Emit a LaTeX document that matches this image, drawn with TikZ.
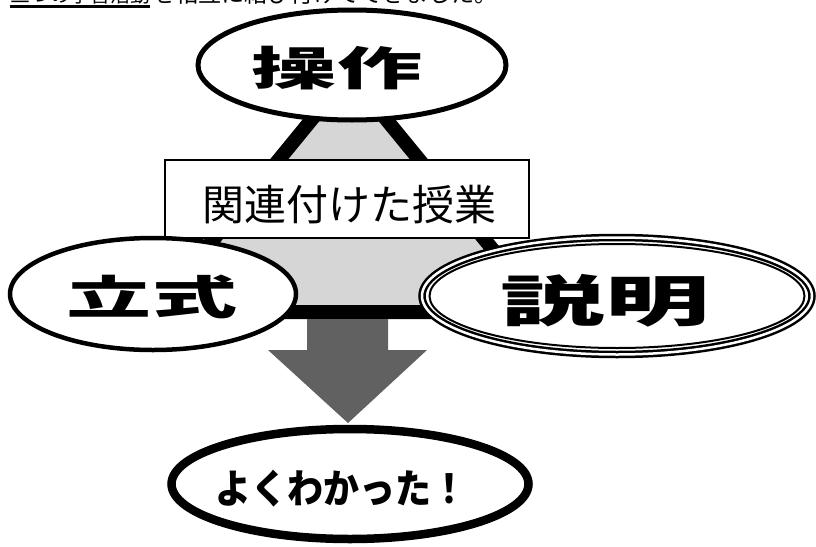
\documentclass[tikz,border=0pt]{standalone}
\usepackage{fontspec}
\usepackage{graphicx}
\usetikzlibrary{shapes.geometric}
\newfontfamily\jp{Noto Sans CJK JP}
\tikzset{
  oval/.style={ellipse, draw=black, fill=white, inner sep=0pt},
  bigtxt/.style={inner sep=0pt, font=\jp\bfseries},
  triedge/.style={line width=14pt, draw=black, line join=miter},
}
\begin{document}
\begin{tikzpicture}[x=1pt,y=-1pt]
\useasboundingbox (0,0) rectangle (816,546);
\clip (0,0) rectangle (816,546);
\fill[white] (0,0) rectangle (816,546);
% cut-off line of text at the top
\node[anchor=base west, inner sep=0pt, font=\jp\fontsize{20}{20}\selectfont] (t1) at (10,2.5) {三つの学習活動};
\node[anchor=base west, inner sep=0pt, font=\jp\fontsize{23}{23}\selectfont] (t2) at (152,2.5) {を相互に結び付けてできました。};
\draw[line width=2.5pt] ([yshift=-4pt]t1.base west) -- ([yshift=-4pt]t1.base east);
% triangle
\coordinate (apex) at (349,74);
\coordinate (bl) at (154,312);
\coordinate (br) at (544,312);
\filldraw[fill=black!16, triedge] (apex) -- (bl) -- (br) -- cycle;
% big arrow
\fill[black!62] (307,319) -- (388,319) -- (388,350) -- (427,350) -- (348,423) -- (268,350) -- (307,350) -- cycle;
% box
\node[draw, line width=1.3pt, fill=white, minimum width=364pt, minimum height=78pt, inner sep=0pt] (box) at (347,199) {};
\node[font=\jp\fontsize{42}{42}\selectfont, inner sep=0pt] (boxt) at (349,205) {関連付けた授業};
% ellipses
\node[oval, line width=5pt, minimum width=308pt, minimum height=110pt] (op) at (352,65) {};
\node[oval, line width=4.5pt, minimum width=286pt, minimum height=112pt] (ls) at (153,294) {};
\node[oval, line width=2.5pt, double=white, double distance=2.5pt, minimum width=390pt, minimum height=117pt] (ex) at (617,296) {};
\node[ellipse, draw=black, line width=2pt, inner sep=0pt, minimum width=375pt, minimum height=104pt] (exin) at (617,296) {};
\node[oval, line width=8.5pt, minimum width=357pt, minimum height=110pt] (res) at (350,484) {};
% labels
\node[bigtxt] (opt) at (337,68) {\scalebox{1.85}[1]{\fontsize{46}{46}\selectfont 操作}};
\node[bigtxt] (lst) at (152,297) {\scalebox{1.85}[1]{\fontsize{46}{46}\selectfont 立式}};
\node[bigtxt] (ext) at (605,301) {\scalebox{1.9}[1]{\fontsize{55}{55}\selectfont 説明}};
\node[bigtxt] (rest) at (341,489) {\scalebox{0.9}[1]{\fontsize{40}{40}\selectfont よくわかった！}};
\end{tikzpicture}
\end{document}
